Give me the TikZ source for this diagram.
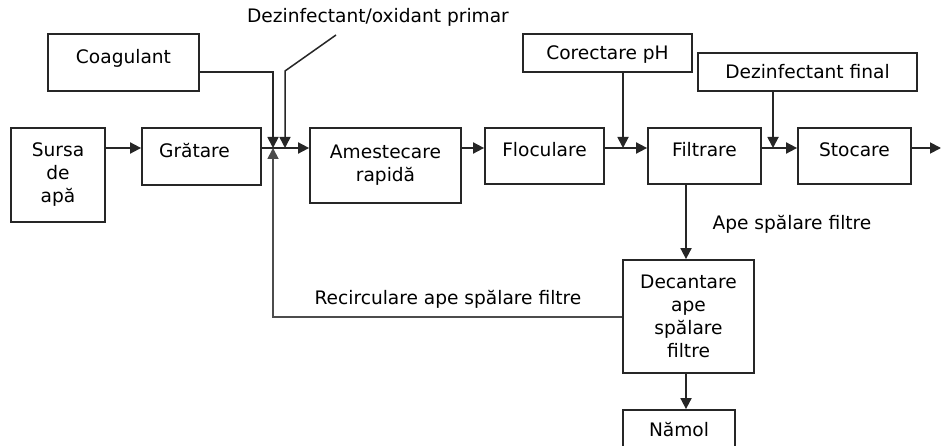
\documentclass[tikz,border=0pt]{standalone}
\usepackage{fontspec}
\setmainfont{DejaVu Sans}
\usetikzlibrary{arrows.meta,calc}
\begin{document}
\begin{tikzpicture}[x=1pt,y=-1pt,
  font=\fontsize{18.6}{23}\selectfont,
  box/.style={draw=black!85, line width=1.8pt, rectangle, inner sep=0pt, align=center},
  oneline/.style={text height=13.6pt, text depth=0pt},
  topline/.style={text height=13.6pt, text depth=12pt},
  arr/.style={draw=black!85, line width=1.8pt, -{Triangle[length=11pt,width=11pt]}},
  lbl/.style={inner sep=0pt}]
\useasboundingbox (0,0) rectangle (941,446);
\fill[white] (0,0) rectangle (941,446);

% boxes
\node[box, minimum width=94pt, minimum height=94pt] (sursa) at (58,175) {Sursa\\de\\apă};
\node[box, topline, minimum width=119pt, minimum height=57pt] (gratare) at (201.5,156.5) {Grătare\hspace*{14pt}};
\node[box, topline, minimum width=151pt, minimum height=57pt] (coag) at (123.5,62.5) {Coagulant};
\node[box, minimum width=151pt, minimum height=75pt] (amest) at (385.5,165.5) {Amestecare\\rapidă};
\node[box, topline, minimum width=119pt, minimum height=56pt] (flocul) at (544.5,156) {Floculare};
\node[box, oneline, minimum width=169pt, minimum height=38pt] (corect) at (607.5,53) {Corectare pH};
\node[box, oneline, minimum width=219pt, minimum height=38pt] (dezfin) at (807.5,72) {Dezinfectant final};
\node[box, topline, minimum width=113pt, minimum height=56pt] (filtr) at (704.5,156) {Filtrare};
\node[box, topline, minimum width=113pt, minimum height=56pt] (stoc) at (854.5,156) {Stocare};
\node[box, minimum width=131pt, minimum height=113pt] (decant) at (688.5,316.5) {Decantare\\ape\\spălare\\filtre};
\node[box, oneline, minimum width=112pt, minimum height=40pt] (namol) at (679,430) {Nămol};

% labels
\node[lbl] (lbldez) at (378,17) {Dezinfectant/oxidant primar};
\node[lbl] (lblape) at (792,224) {Ape spălare filtre};
\node[lbl] (lblrec) at (448,299) {Recirculare ape spălare filtre};

% coordinates
\coordinate (jn) at (273,148);
\coordinate (jn2) at (285,148);
\coordinate (dzk) at (285,71);
\coordinate (dzt) at (336,35);
\coordinate (ph) at (623,148);
\coordinate (fin) at (773,148);
\coordinate (out) at (941,148);
\coordinate (dx) at (686,0);
\coordinate (cy) at (0,72);
\coordinate (ry) at (0,317);

% connectors
\draw[arr] (sursa.east |- jn) -- (gratare.west |- jn);
\draw[arr] (gratare.east |- jn) -- (amest.west |- jn);
\draw[arr] (amest.east |- jn) -- (flocul.west |- jn);
\draw[arr] (coag.east |- cy) -- (jn |- cy) -- (jn);
\draw[arr, line width=1.5pt] (dzt) -- (dzk) -- (jn2);
\draw[arr, draw=black!70] (decant.west |- ry) -- (jn |- ry) -- (jn);
\draw[arr] (flocul.east |- jn) -- (filtr.west |- jn);
\draw[arr] (corect.south -| ph) -- (ph);
\draw[arr] (filtr.east |- jn) -- (stoc.west |- jn);
\draw[arr] (dezfin.south -| fin) -- (fin);
\draw[arr] (stoc.east |- jn) -- (out);
\draw[arr] (filtr.south -| dx) -- (decant.north -| dx);
\draw[arr] (decant.south -| dx) -- (namol.north -| dx);
\end{tikzpicture}
\end{document}
